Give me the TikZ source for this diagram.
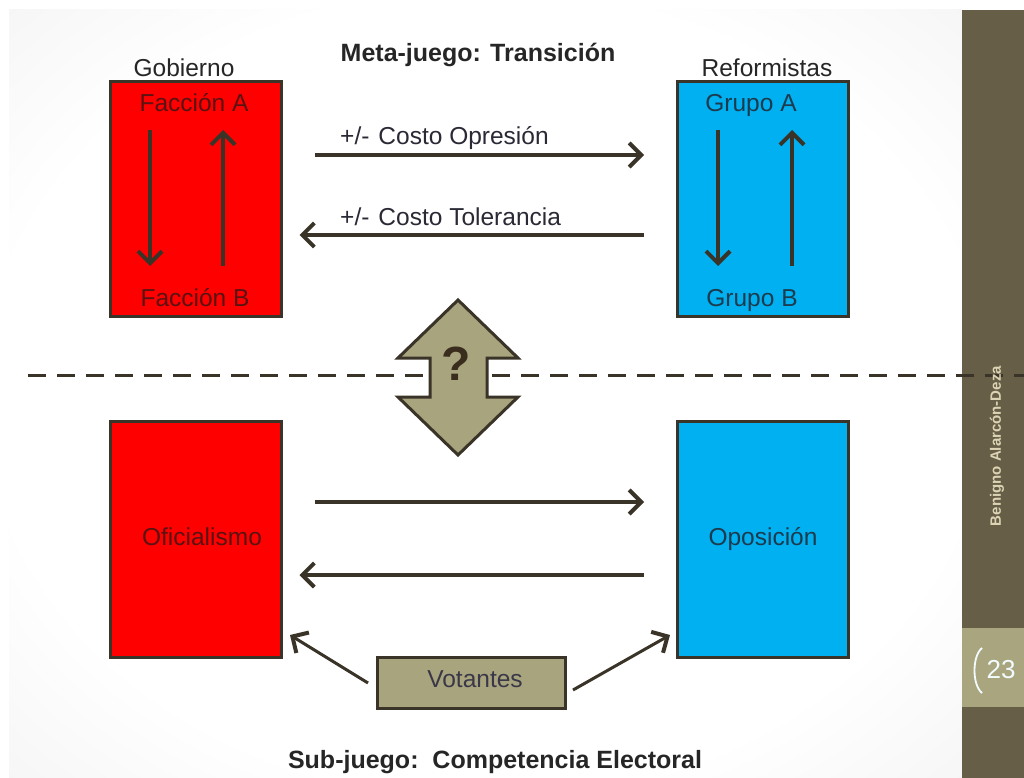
\documentclass[tikz,border=0pt]{standalone}
\usepackage{fontspec}
\setmainfont{Liberation Sans}
\usetikzlibrary{arrows.meta,calc}
\definecolor{boxline}{HTML}{3A3328}
\definecolor{redfill}{HTML}{FF0000}
\definecolor{bluefill}{HTML}{00B0F0}
\definecolor{olivefill}{HTML}{A8A47E}
\definecolor{sidebar}{HTML}{675E48}
\definecolor{band}{HTML}{A9A67F}
\definecolor{redtext}{HTML}{5A1212}
\definecolor{bluetext}{HTML}{1C3B4F}
\definecolor{titletext}{HTML}{262626}
\definecolor{labeltext}{HTML}{2A2A36}
\definecolor{votext}{HTML}{3A3848}
\definecolor{qmark}{HTML}{3B2D1E}
\definecolor{bggray}{HTML}{D4D4D4}
\definecolor{sidetext}{HTML}{DCD3B4}
\pgfdeclareradialshading{slidebg}{\pgfpoint{0bp}{0bp}}{color(0bp)=(white); color(26bp)=(white); color(72bp)=(bggray)}
\begin{document}
\begin{tikzpicture}[x=1pt,y=-1pt,
  boxstyle/.style={draw=boxline, line width=3pt, inner sep=0pt, minimum width=171pt},
  redbox/.style={boxstyle, fill=redfill},
  bluebox/.style={boxstyle, fill=bluefill},
  txt/.style={anchor=base, inner sep=0pt, font=\fontsize{24.5}{28}\selectfont},
  redtxt/.style={txt, text=redtext},
  bluetxt/.style={txt, text=bluetext},
  ttl/.style={anchor=base, inner sep=0pt, text=titletext, font=\fontsize{25}{29}\selectfont\bfseries},
  arr/.style={draw=boxline, line width=3.5pt, -{Straight Barb[length=12pt,width=24pt,line width=4pt]}},
]
\useasboundingbox (0,0) rectangle (1024,778);
\fill[white] (0,0) rectangle (1024,778);
\shade[shading=slidebg] (9,10) rectangle (962,778);
\fill[sidebar] (962,10) rectangle (1024,778);
\fill[band] (962,628) rectangle (1024,707);

% dashed separator
\draw[boxline, line width=3pt, dash pattern=on 18pt off 11pt] (28,375) -- (1024,375);

% titles
\node[ttl] (meta) at (478,62) {Meta-juego: Transición};
\node[ttl] (sub) at (495,768) {Sub-juego:\ \ Competencia Electoral};

% boxes
\node[redbox, minimum height=234pt] (gob) at (195.5,199) {};
\node[bluebox, minimum height=234pt] (ref) at (763,199) {};
\node[redbox, minimum height=236pt] (ofi) at (195.5,539) {};
\node[bluebox, minimum height=236pt] (opo) at (763,539) {};

\node[txt, text=titletext] (gobl) at (184,77) {Gobierno};
\node[txt, text=titletext] (refl) at (767,77) {Reformistas};

\node[redtxt] (fa) at (194,112) {Facción A};
\node[redtxt] (fb) at (195,306) {Facción B};
\node[bluetxt] (ga) at (751,112) {Grupo A};
\node[bluetxt] (gb) at (752,306) {Grupo B};
\node[redtxt] (ofit) at (202,545) {Oficialismo};
\node[bluetxt] (opot) at (763,545) {Oposición};

% inner arrows
\coordinate (fa1) at (150,130); \coordinate (fb1) at (150,266);
\coordinate (fa2) at (223,130); \coordinate (fb2) at (223,266);
\coordinate (ga1) at (718,130); \coordinate (gb1) at (718,266);
\coordinate (ga2) at (792,130); \coordinate (gb2) at (792,266);
\draw[arr] (fa1) -- (fb1);
\draw[arr] (fb2) -- (fa2);
\draw[arr] (ga1) -- (gb1);
\draw[arr] (gb2) -- (ga2);

% horizontal arrows
\coordinate (y1) at (0,155); \coordinate (y2) at (0,235);
\coordinate (y3) at (0,502); \coordinate (y4) at (0,575);
\draw[arr, shorten <=32pt, shorten >=32pt] (gob.east |- y1) -- (ref.west |- y1);
\draw[arr, shorten <=32pt, shorten >=17pt] (ref.west |- y2) -- (gob.east |- y2);
\draw[arr, shorten <=32pt, shorten >=32pt] (ofi.east |- y3) -- (opo.west |- y3);
\draw[arr, shorten <=32pt, shorten >=17pt] (opo.west |- y4) -- (ofi.east |- y4);

\node[txt, text=labeltext, anchor=base west] (lop) at (340,145) {+/-\hspace{9pt}Costo Opresión};
\node[txt, text=labeltext, anchor=base west] (lto) at (340,225) {+/-\hspace{9pt}Costo Tolerancia};

% double arrow with question mark
\draw[boxline, line width=3pt, fill=olivefill, line join=miter]
  (458,300) -- (518,358) -- (487,358) -- (487,397) -- (518,397) -- (458,455)
  -- (398,397) -- (430,397) -- (430,358) -- (398,358) -- cycle;
\node[inner sep=0pt, text=qmark, font=\fontsize{48}{52}\selectfont\bfseries] (q) at (456,364) {?};

% voters
\node[draw=boxline, line width=3pt, fill=olivefill, inner sep=0pt,
      minimum width=188pt, minimum height=51pt] (vot) at (471,682.5) {};
\node[txt, text=votext] (vott) at (475,687) {Votantes};
\coordinate (vs1) at (368,683); \coordinate (vt1) at (290,635);
\coordinate (vs2) at (573,690); \coordinate (vt2) at (670,635);
\draw[arr, line width=3pt] (vs1) -- (vt1);
\draw[arr, line width=3pt] (vs2) -- (vt2);

% sidebar text
\node[rotate=90, inner sep=0pt, text=sidetext, font=\fontsize{15}{17}\selectfont\bfseries] (author) at (997,446) {Benigno Alarcón-Deza};
\node[inner sep=0pt, text=white!95!cyan, font=\fontsize{26}{30}\selectfont] (pg) at (1001,670) {23};
\draw[white!95!cyan, line width=1.8pt] (982,648) .. controls (972,656) and (972,685) .. (982,693);
\end{tikzpicture}
\end{document}
